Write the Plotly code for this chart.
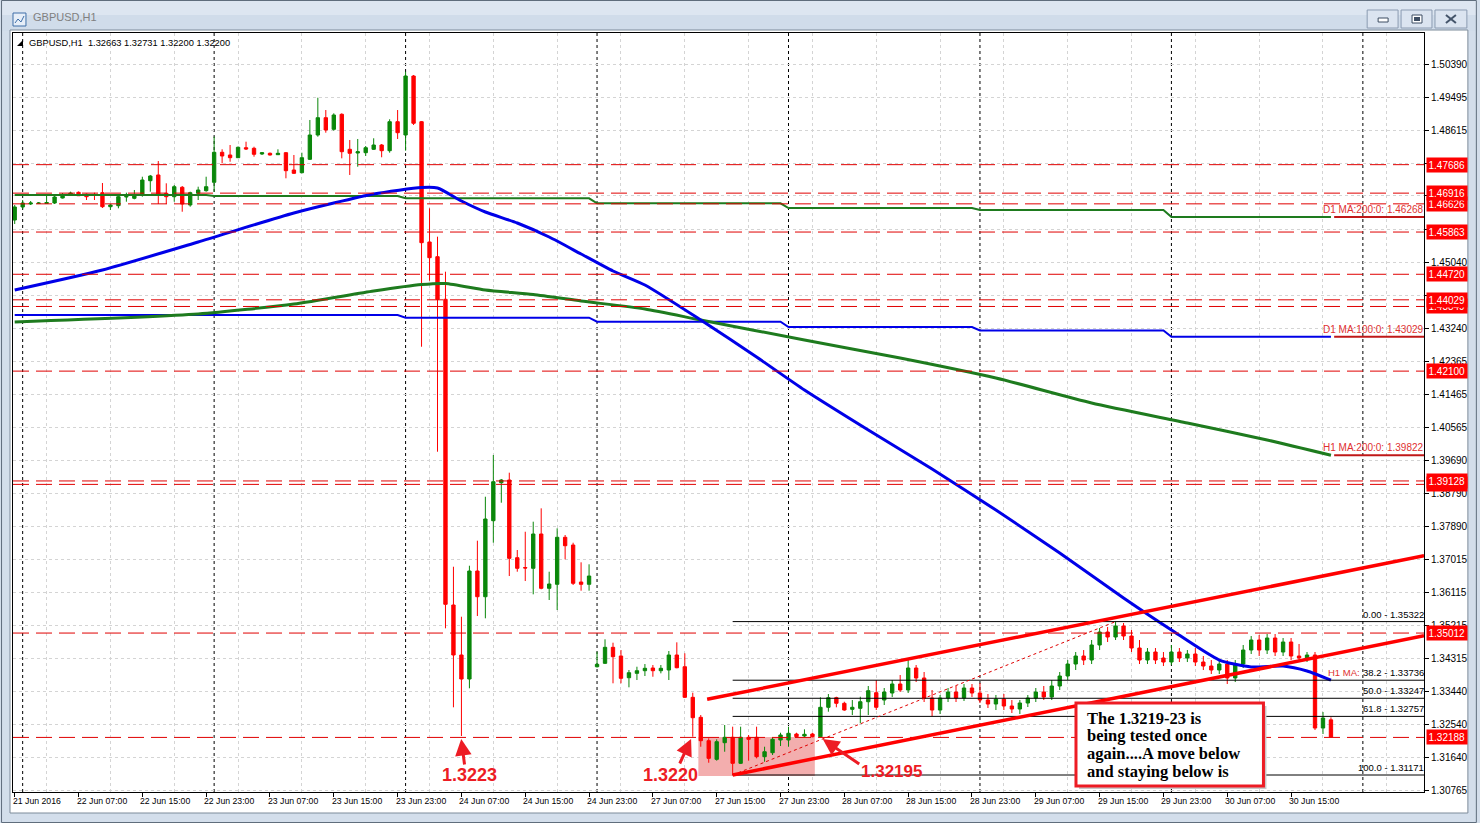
import plotly.graph_objects as go

# ---------------- data ----------------
# hourly bars; index 0 = 22 Jun 2016 00:00, weekend skipped (24 Jun 23:00 -> 27 Jun 00:00 = 71 -> 72)
bars = list(range(-1, 165))

opens = [
    1.46189,
    1.46541, 1.46622, 1.46635, 1.46635, 1.46649, 1.46784, 1.46879, 1.46938, 1.46884, 1.46879,
    1.46928, 1.46549, 1.46576, 1.46811, 1.46776, 1.46865, 1.47252, 1.47407, 1.46911, 1.46819,
    1.47074, 1.46595, 1.46911, 1.46982, 1.47209, 1.48021, 1.47948, 1.47875, 1.48145, 1.48129,
    1.47975, 1.47994, 1.47956, 1.48010, 1.47542, 1.47469, 1.47831, 1.48489, 1.48957, 1.48643,
    1.49049, 1.48102, 1.48002, 1.48010, 1.48102, 1.48218, 1.48064, 1.48849, 1.48489, 1.50085,
    1.48849, 1.45594, 1.45196, 1.44043, 1.35771, 1.34418, 1.33768, 1.36691, 1.35995, 1.38052,
    1.39080, 1.39153, 1.37051, 1.36785, 1.36764, 1.37692, 1.36223, 1.36331, 1.37603, 1.37394,
    1.36393, 1.36331, 1.34101, 1.34193, 1.34626, 1.34391, 1.33803, 1.33922, 1.33993, 1.34066,
    1.33993, 1.34012, 1.34418, 1.34101, 1.33273, 1.32732, 1.32099, 1.31595, 1.32045, 1.32191,
    1.31487, 1.32191, 1.32191, 1.31666, 1.31774, 1.32118, 1.32118, 1.32280, 1.32226, 1.32280,
    1.32207, 1.33003, 1.33262, 1.33111, 1.32948, 1.32975, 1.33154, 1.33398, 1.33200, 1.33390,
    1.33633, 1.33471, 1.34066, 1.33796, 1.33254, 1.32929, 1.33254, 1.33417, 1.33254, 1.33525,
    1.33390, 1.33200, 1.33092, 1.33227, 1.33038, 1.32957, 1.33119, 1.33254, 1.33417, 1.33282,
    1.33579, 1.33850, 1.34174, 1.34391, 1.34282, 1.34689, 1.35040, 1.34905, 1.35203, 1.34932,
    1.34607, 1.34282, 1.34499, 1.34337, 1.34228, 1.34499, 1.34337, 1.34445, 1.34228, 1.34120,
    1.34012, 1.34174, 1.33796, 1.34174, 1.34553, 1.34824, 1.34553, 1.34878, 1.34499, 1.34770,
    1.34391, 1.34337, 1.34418, 1.32442, 1.32663,
]
highs = [
    1.46595,
    1.46730, 1.46703, 1.46676, 1.46865, 1.46838, 1.46919, 1.46955, 1.46960, 1.46906, 1.46928,
    1.47190, 1.46622, 1.46865, 1.46928, 1.47001, 1.47360, 1.47407, 1.47785, 1.47182, 1.47136,
    1.47109, 1.46955, 1.47090, 1.47360, 1.48443, 1.48102, 1.48218, 1.48178, 1.48308, 1.48172,
    1.48029, 1.48015, 1.48102, 1.48029, 1.47948, 1.48010, 1.48895, 1.49498, 1.49165, 1.49076,
    1.49076, 1.48354, 1.48381, 1.48191, 1.48400, 1.48245, 1.48914, 1.49165, 1.50202, 1.50112,
    1.48868, 1.46505, 1.45737, 1.44790, 1.36807, 1.35454, 1.36834, 1.37511, 1.38701, 1.39830,
    1.39180, 1.39351, 1.37259, 1.37754, 1.38025, 1.38387, 1.36672, 1.37846, 1.37665, 1.37456,
    1.36926, 1.36872, 1.34507, 1.34843, 1.34751, 1.34553, 1.34012, 1.34101, 1.34174, 1.34147,
    1.34147, 1.34526, 1.34761, 1.34464, 1.33398, 1.32794, 1.32164, 1.32137, 1.32524, 1.32478,
    1.32478, 1.32253, 1.32478, 1.31936, 1.32191, 1.32315, 1.32478, 1.32315, 1.32407, 1.32315,
    1.33273, 1.33362, 1.33289, 1.33154, 1.33200, 1.33289, 1.33579, 1.33741, 1.33525, 1.33741,
    1.33877, 1.34282, 1.34147, 1.33958, 1.33471, 1.33336, 1.33525, 1.33579, 1.33633, 1.33633,
    1.33660, 1.33363, 1.33336, 1.33363, 1.33200, 1.33200, 1.33336, 1.33525, 1.33579, 1.33741,
    1.33958, 1.34282, 1.34499, 1.34553, 1.34824, 1.35149, 1.35176, 1.35322, 1.35284, 1.35094,
    1.34824, 1.34607, 1.34607, 1.34499, 1.34689, 1.34607, 1.34553, 1.34607, 1.34391, 1.34282,
    1.34282, 1.34282, 1.34282, 1.34689, 1.34932, 1.34959, 1.34986, 1.34986, 1.34878, 1.34878,
    1.34716, 1.34499, 1.34499, 1.32875, 1.32731,
]
lows = [
    1.46081,
    1.46487, 1.46595, 1.46622, 1.46622, 1.46622, 1.46771, 1.46865, 1.46838, 1.46730, 1.46730,
    1.46514, 1.46460, 1.46505, 1.46684, 1.46749, 1.46819, 1.46955, 1.46622, 1.46622, 1.46684,
    1.46413, 1.46549, 1.46730, 1.46955, 1.46955, 1.47723, 1.47766, 1.47867, 1.48083, 1.47902,
    1.47948, 1.47934, 1.47948, 1.47317, 1.47434, 1.47452, 1.47812, 1.48443, 1.48551, 1.48605,
    1.47858, 1.47407, 1.47631, 1.47921, 1.48083, 1.47886, 1.48010, 1.48381, 1.48064, 1.48760,
    1.42760, 1.44546, 1.39919, 1.35140, 1.33003, 1.32226, 1.33517, 1.35473, 1.35411, 1.37456,
    1.38539, 1.36555, 1.36672, 1.36420, 1.36060, 1.36196, 1.35906, 1.35635, 1.37007, 1.36312,
    1.36158, 1.36158, 1.34079, 1.34174, 1.33652, 1.33652, 1.33544, 1.33741, 1.33849, 1.33830,
    1.33922, 1.33741, 1.34058, 1.33254, 1.32207, 1.31936, 1.31503, 1.31558, 1.31801, 1.31171,
    1.31468, 1.31558, 1.31622, 1.31530, 1.31712, 1.31955, 1.31936, 1.32191, 1.32191, 1.32191,
    1.32195, 1.32883, 1.33003, 1.32910, 1.32794, 1.32570, 1.32794, 1.32929, 1.33065, 1.33282,
    1.33417, 1.33390, 1.33687, 1.33146, 1.32767, 1.32821, 1.33146, 1.33146, 1.33173, 1.33282,
    1.33119, 1.32984, 1.32929, 1.32929, 1.32848, 1.32821, 1.33011, 1.33146, 1.33200, 1.33200,
    1.33471, 1.33741, 1.34012, 1.34147, 1.34174, 1.34553, 1.34770, 1.34824, 1.34824, 1.34499,
    1.34174, 1.34174, 1.34174, 1.34120, 1.34147, 1.34228, 1.34228, 1.34120, 1.34012, 1.33904,
    1.33904, 1.33633, 1.33687, 1.34066, 1.34445, 1.34391, 1.34445, 1.34391, 1.34391, 1.34282,
    1.34228, 1.34228, 1.32388, 1.32280, 1.32200,
]
closes = [
    1.46541,
    1.46649, 1.46649, 1.46649, 1.46662, 1.46811, 1.46865, 1.46919, 1.46846, 1.46819, 1.46852,
    1.46549, 1.46595, 1.46819, 1.46825, 1.46865, 1.47271, 1.47379, 1.46865, 1.46819, 1.47090,
    1.46622, 1.46928, 1.47001, 1.47090, 1.48021, 1.47921, 1.47875, 1.48156, 1.48110, 1.47967,
    1.48010, 1.47948, 1.47994, 1.47523, 1.47452, 1.47875, 1.48489, 1.48957, 1.48624, 1.49030,
    1.48037, 1.47994, 1.48037, 1.48145, 1.48218, 1.48064, 1.48849, 1.48551, 1.50085, 1.48806,
    1.45575, 1.45169, 1.44043, 1.35790, 1.34418, 1.33768, 1.36691, 1.35995, 1.38098, 1.39107,
    1.39153, 1.37034, 1.36764, 1.36772, 1.37692, 1.36223, 1.36339, 1.37603, 1.37375, 1.36358,
    1.36331, 1.36555, 1.34166, 1.34626, 1.34372, 1.33787, 1.33939, 1.33993, 1.34058, 1.33993,
    1.34058, 1.34418, 1.34074, 1.33273, 1.32721, 1.32099, 1.31622, 1.32072, 1.32191, 1.31487,
    1.32191, 1.32137, 1.31666, 1.31801, 1.32137, 1.32253, 1.32299, 1.32207, 1.32272, 1.32207,
    1.33003, 1.33262, 1.33111, 1.32929, 1.33003, 1.33154, 1.33452, 1.33003, 1.33417, 1.33633,
    1.33471, 1.34066, 1.33796, 1.33254, 1.32929, 1.33254, 1.33417, 1.33254, 1.33525, 1.33390,
    1.33200, 1.33092, 1.33227, 1.33038, 1.32957, 1.33119, 1.33254, 1.33417, 1.33282, 1.33579,
    1.33850, 1.34174, 1.34391, 1.34282, 1.34689, 1.35040, 1.34905, 1.35203, 1.34932, 1.34607,
    1.34282, 1.34499, 1.34282, 1.34228, 1.34499, 1.34337, 1.34445, 1.34228, 1.34120, 1.34012,
    1.34174, 1.33796, 1.34174, 1.34553, 1.34824, 1.34553, 1.34878, 1.34499, 1.34770, 1.34391,
    1.34337, 1.34418, 1.32442, 1.32713, 1.32200,
]

# moving averages
h1_ma100_bars = [-1, 10, 22, 34, 44, 50, 52, 55, 58, 62, 66, 70, 74, 78, 85, 92, 98, 106,
                 114, 122, 130, 138, 144, 150, 154, 158, 161, 164]
h1_ma100 = [1.44295, 1.44836, 1.45594, 1.46378, 1.46892, 1.47068, 1.47055, 1.46703, 1.46405,
            1.46108, 1.45729, 1.45269, 1.44809, 1.44430, 1.43483, 1.42482, 1.41589, 1.40506,
            1.39451, 1.38341, 1.37178, 1.35960, 1.35094, 1.34282, 1.34093, 1.34120, 1.33985,
            1.33736]
h1_ma200_bars = [-1, 22, 34, 44, 50, 53, 58, 64, 70, 78, 85, 98, 110, 122, 134, 146, 156, 164]
h1_ma200 = [1.43429, 1.43645, 1.43916, 1.44268, 1.44443, 1.44471, 1.44295, 1.44173, 1.43997,
            1.43780, 1.43483, 1.42942, 1.42455, 1.41913, 1.41237, 1.40696, 1.40236, 1.39822]
day_first_bar = [-1, 24, 48, 72, 96, 120, 144]
day_last_bar = [23, 47, 71, 95, 119, 143, 164]
d1_ma200 = [1.46865, 1.46838, 1.46776, 1.46641, 1.46514, 1.46460, 1.46268]
d1_ma100 = [1.43618, 1.43618, 1.43545, 1.43437, 1.43293, 1.43199, 1.43029]

# horizontal lines (drawing order: partly hidden labels first)
hline_prices = [1.47686, 1.46626, 1.46916, 1.45863, 1.44720, 1.43849, 1.44029, 1.42100,
                1.39035, 1.39128, 1.35012, 1.32188]

# channel (two anchors each, extended to the right edge)
upper_bars, upper_prices = [85.8, 137], [1.33219, 1.35432]
lower_bars, lower_prices = [89, 162], [1.31171, 1.34345]

# fibonacci retracement
fib_bars = [89, 137]
fib_levels = ["0.00", "38.2", "50.0", "61.8", "100.0"]
fib_prices = [1.35322, 1.33736, 1.33247, 1.32757, 1.31171]

# highlighted zone
zone_bars = [84.7, 99.3]
zone_prices = [1.31144, 1.32199]

# axes
price_ticks = [1.50390, 1.49495, 1.48615, 1.47720, 1.46840, 1.45940, 1.45040, 1.44140,
               1.43240, 1.42365, 1.41465, 1.40565, 1.39690, 1.38790, 1.37890, 1.37015,
               1.36115, 1.35215, 1.34315, 1.33440, 1.32540, 1.31640, 1.30765]
covered_ticks = [1.47720, 1.46840, 1.45940, 1.44140]   # hidden behind red price boxes
time_tick_bars = [-1, 7, 15, 23, 31, 39, 47, 55, 63, 71, 79, 87, 95, 103, 111, 119, 127,
                  135, 143, 151, 159]
time_tick_labels = ["21 Jun 2016", "22 Jun 07:00", "22 Jun 15:00", "22 Jun 23:00",
                    "23 Jun 07:00", "23 Jun 15:00", "23 Jun 23:00", "24 Jun 07:00",
                    "24 Jun 15:00", "24 Jun 23:00", "27 Jun 07:00", "27 Jun 15:00",
                    "27 Jun 23:00", "28 Jun 07:00", "28 Jun 15:00", "28 Jun 23:00",
                    "29 Jun 07:00", "29 Jun 15:00", "29 Jun 23:00", "30 Jun 07:00",
                    "30 Jun 15:00"]
grid_bars = [3, 11, 19, 27, 35, 43, 51, 59, 67, 75, 83, 91, 99, 107, 115, 123, 131, 139,
             147, 155, 163, 171]
day_start_bars = [0, 24, 48, 72, 96, 120, 144, 168]

header_text = "GBPUSD,H1\u00a0 1.32663 1.32731 1.32200 1.32200"
box_lines = ["The 1.3219-23 is", "being tested once", "again....A move below",
             "and staying below is"]

# ---------------- style / layout ----------------
W, H = 1480, 823
PL, PR, PT, PB = 12, 1427, 33, 792
X_MIN, X_MAX = -1.2125, 175.6625
Y_MIN, Y_MAX = 1.30711, 1.51249

FONT = "Liberation Sans, Arial, sans-serif"
SERIF = "Liberation Serif, Times New Roman, serif"
GREEN_C = "#0a870a"
RED_C = "#ff0000"
MA_BLUE = "#0000e8"
MA_GREEN = "#1e7b1e"
HL_RED = "#e00000"
ANN_RED = "#ed1c24"
GRID = "#d4d4d4"
FRAME = "#d3deeb"


def fx(p):
    return (p - PL) / (PR - PL)


def fy(p):
    return (PB - p) / (PB - PT)


shapes = []
annotations = []


def prect(x0, y0, x1, y1, fill, line=None, lw=0, layer="below"):
    shapes.append(dict(type="rect", xref="paper", yref="paper", x0=fx(x0), x1=fx(x1),
                       y0=fy(y1), y1=fy(y0), fillcolor=fill,
                       line=dict(color=line or fill, width=lw), layer=layer))


def pline(x0, y0, x1, y1, color, lw=1, layer="above"):
    shapes.append(dict(type="line", xref="paper", yref="paper", x0=fx(x0), x1=fx(x1),
                       y0=fy(y0), y1=fy(y1), line=dict(color=color, width=lw), layer=layer))


# window chrome
prect(0, 0, 1480, 15, "#dde6f1")
prect(0, 15, 1480, 31, "#d0dcea")
prect(9, 30, 1471, 813, "white", "#7d8b9a", 1)
shapes.append(dict(type="rect", xref="paper", yref="paper", x0=fx(0.5), x1=fx(1479.5),
                   y0=fy(822.5), y1=fy(0.5), line=dict(color="#5f6d7c", width=1),
                   fillcolor="rgba(0,0,0,0)", layer="above"))
# title icon
prect(12, 13, 25, 26, "#e6eef8", "#3e6ea8", 1, "above")
pline(14, 23, 17, 19, "#3e6ea8", 1)
pline(17, 19, 20, 22, "#3e6ea8", 1)
pline(20, 22, 23, 16, "#3e6ea8", 1)
annotations.append(dict(x=fx(30), y=fy(17), xref="paper", yref="paper", text="GBPUSD,H1",
                        showarrow=False, xanchor="left", yanchor="middle",
                        font=dict(family=FONT, size=11, color="#808080")))
# window buttons
for bx0, bx1 in [(1370, 1401), (1404, 1435), (1438, 1470)]:
    prect(bx0, 10, bx1, 28, "#dbe4f0", "#8b9bb1", 1, "above")
prect(1381, 18, 1391, 22, "white", "#3d4d62", 1, "above")
prect(1415, 15, 1425, 23, "white", "#3d4d62", 1, "above")
prect(1417, 17, 1423, 21, "#3d4d62", "#3d4d62", 0, "above")
pline(1449, 15, 1459, 23, "#44546a", 2)
pline(1449, 23, 1459, 15, "#44546a", 2)

# header inside the chart
shapes.append(dict(type="path", xref="paper", yref="paper",
                   path=f"M {fx(16)},{fy(46)} L {fx(22)},{fy(46)} L {fx(22)},{fy(40)} Z",
                   fillcolor="black", line=dict(color="black", width=0), layer="above"))
annotations.append(dict(x=fx(26), y=fy(43), xref="paper", yref="paper", text=header_text,
                        showarrow=False, xanchor="left", yanchor="middle",
                        font=dict(family=FONT, size=9.3, color="black")))

# highlighted zone
shapes.append(dict(type="rect", xref="x", yref="y", x0=zone_bars[0], x1=zone_bars[1],
                   y0=zone_prices[0], y1=zone_prices[1], fillcolor="#f3aeae",
                   line=dict(width=0), layer="between"))

# period separators
for b in day_start_bars:
    shapes.append(dict(type="line", xref="x", yref="paper", x0=b, x1=b, y0=0, y1=1,
                       line=dict(color="black", width=1, dash="3px,3px"), layer="between"))

# horizontal lines
for p in hline_prices:
    shapes.append(dict(type="line", xref="paper", yref="y", x0=0, x1=1, y0=p, y1=p,
                       line=dict(color=HL_RED, width=1, dash="16px,7px"), layer="above"))

# fibonacci
for p in fib_prices:
    shapes.append(dict(type="line", xref="x", yref="y", x0=fib_bars[0], x1=X_MAX, y0=p, y1=p,
                       line=dict(color="black", width=1), layer="above"))
shapes.append(dict(type="line", xref="x", yref="y", x0=fib_bars[0], x1=fib_bars[1],
                   y0=fib_prices[-1], y1=fib_prices[0],
                   line=dict(color=HL_RED, width=1, dash="dot"), layer="above"))


# channel lines as rays
def ray(bx, pr):
    slope = (pr[1] - pr[0]) / (bx[1] - bx[0])
    return dict(type="line", xref="x", yref="y", x0=bx[0], y0=pr[0], x1=X_MAX,
                y1=pr[0] + slope * (X_MAX - bx[0]), line=dict(color=RED_C, width=3.5),
                layer="above")


shapes.append(ray(upper_bars, upper_prices))
shapes.append(ray(lower_bars, lower_prices))

# MA label underlines
for v in [d1_ma200[-1], d1_ma100[-1], h1_ma200[-1]]:
    shapes.append(dict(type="line", xref="x", yref="y", x0=bars[-1] + 0.4, x1=X_MAX, y0=v,
                       y1=v, line=dict(color="#c01818", width=2), layer="above"))

# text box
prect(1081, 706, 1269, 789, "#c8c8c8", None, 0, "above")
prect(1078, 703, 1266, 786, "white", ANN_RED, 3, "above")
for k, t in enumerate(box_lines):
    annotations.append(dict(x=fx(1087), y=fy(718 + k * 17.7), xref="paper", yref="paper",
                            text="<b>" + t + "</b>", showarrow=False, xanchor="left",
                            yanchor="middle",
                            font=dict(family=SERIF, size=16.5, color="black")))

# y-axis red price labels
for p in hline_prices:
    annotations.append(dict(x=1, y=p, xref="paper", yref="y", text=f"{p:.5f}",
                            showarrow=False, xanchor="left", yanchor="middle", xshift=2,
                            bgcolor=RED_C, borderpad=1.5,
                            font=dict(family=FONT, size=10, color="white")))

# MA labels
for txt, v in [("D1 MA:200:0: ", d1_ma200[-1]), ("D1 MA:100:0: ", d1_ma100[-1]),
               ("H1 MA:200:0: ", h1_ma200[-1])]:
    annotations.append(dict(x=1, y=v, xref="paper", yref="y", text=f"{txt}{v:.5f}",
                            showarrow=False, xanchor="right", yanchor="bottom", xshift=2,
                            yshift=0, font=dict(family=FONT, size=10, color="#e03030")))
annotations.append(dict(x=fx(1329), y=h1_ma100[-1], xref="paper", yref="y", text="H1 MA:",
                        showarrow=False, xanchor="left", yanchor="bottom",
                        font=dict(family=FONT, size=9.5, color="#e03030")))
# fib labels
for lv, p in zip(fib_levels, fib_prices):
    annotations.append(dict(x=1, y=p, xref="paper", yref="y", text=f"{lv} - {p:.5f}",
                            showarrow=False, xanchor="right", yanchor="bottom", xshift=2,
                            font=dict(family=FONT, size=9.5, color="black")))

# time labels
for b, t in zip(time_tick_bars, time_tick_labels):
    annotations.append(dict(x=b, y=0, xref="x", yref="paper", text=t, showarrow=False,
                            xanchor="left", yanchor="top", xshift=-4, yshift=-2,
                            font=dict(family=FONT, size=8.7, color="black")))

# red callouts: arrows and numbers
for hx, hy, tx, ty in [(461.5, 739, 465, 766), (692, 739, 680, 765), (824, 739, 862, 765)]:
    annotations.append(dict(x=fx(hx), y=fy(hy), xref="paper", yref="paper", text="",
                            showarrow=True, ax=tx - hx, ay=ty - hy, arrowhead=2,
                            arrowsize=1.1, arrowwidth=3, arrowcolor=ANN_RED, standoff=0))
for txt, cx, cy, sz in [("1.3223", 470, 775, 18), ("1.3220", 671, 775, 18),
                        ("1.32195", 893, 771, 17)]:
    annotations.append(dict(x=fx(cx), y=fy(cy), xref="paper", yref="paper",
                            text=f"<b>{txt}</b>", showarrow=False, xanchor="center",
                            yanchor="middle", font=dict(family=FONT, size=sz, color=ANN_RED)))

# ---------------- figure ----------------
fig = go.Figure()
fig.add_trace(go.Candlestick(
    x=bars, open=opens, high=highs, low=lows, close=closes,
    increasing=dict(line=dict(color=GREEN_C, width=1), fillcolor=GREEN_C),
    decreasing=dict(line=dict(color=RED_C, width=1), fillcolor=RED_C),
    whiskerwidth=0, hoverinfo="skip", showlegend=False))


def steps(vals):
    xs, ys = [], []
    for a, b, v in zip(day_first_bar, day_last_bar, vals):
        xs += [a, b]
        ys += [v, v]
    return xs, ys


sx, sy = steps(d1_ma200)
fig.add_trace(go.Scatter(x=sx, y=sy, mode="lines", line=dict(color=MA_GREEN, width=2),
                         hoverinfo="skip", showlegend=False))
sx, sy = steps(d1_ma100)
fig.add_trace(go.Scatter(x=sx, y=sy, mode="lines", line=dict(color=MA_BLUE, width=2),
                         hoverinfo="skip", showlegend=False))
fig.add_trace(go.Scatter(x=h1_ma200_bars, y=h1_ma200, mode="lines",
                         line=dict(color=MA_GREEN, width=3, shape="spline", smoothing=0.6),
                         hoverinfo="skip", showlegend=False))
fig.add_trace(go.Scatter(x=h1_ma100_bars, y=h1_ma100, mode="lines",
                         line=dict(color=MA_BLUE, width=3, shape="spline", smoothing=0.6),
                         hoverinfo="skip", showlegend=False))

fig.update_layout(
    width=W, height=H,
    margin=dict(l=PL, r=W - PR, t=PT, b=H - PB, pad=0),
    paper_bgcolor=FRAME, plot_bgcolor="white",
    showlegend=False, hovermode=False, boxgap=0.4,
    xaxis=dict(range=[X_MIN, X_MAX], tickmode="array", tickvals=time_tick_bars,
               showticklabels=False, ticks="outside", ticklen=4, tickcolor="black",
               showgrid=False, showline=True, linecolor="black", linewidth=1, mirror=True,
               zeroline=False, rangeslider=dict(visible=False), fixedrange=True,
               minor=dict(tickmode="array", tickvals=grid_bars, showgrid=True,
                          gridcolor=GRID, griddash="3px,3px", gridwidth=1, ticks="")),
    yaxis=dict(side="right", range=[Y_MIN, Y_MAX], tickmode="array", tickvals=price_ticks,
               ticktext=["" if v in covered_ticks else f"{v:.5f}" for v in price_ticks],
               ticks="outside", ticklen=4,
               tickcolor="black", tickfont=dict(family=FONT, size=10, color="black"),
               showgrid=True, gridcolor=GRID, griddash="3px,3px", gridwidth=1,
               showline=True, linecolor="black", linewidth=1, mirror=True, zeroline=False,
               fixedrange=True),
    shapes=shapes, annotations=annotations,
)

fig.write_html("out.html", config={"displayModeBar": False},
               post_script="document.body.style.margin='0';"
                           "document.body.style.overflow='hidden';")
